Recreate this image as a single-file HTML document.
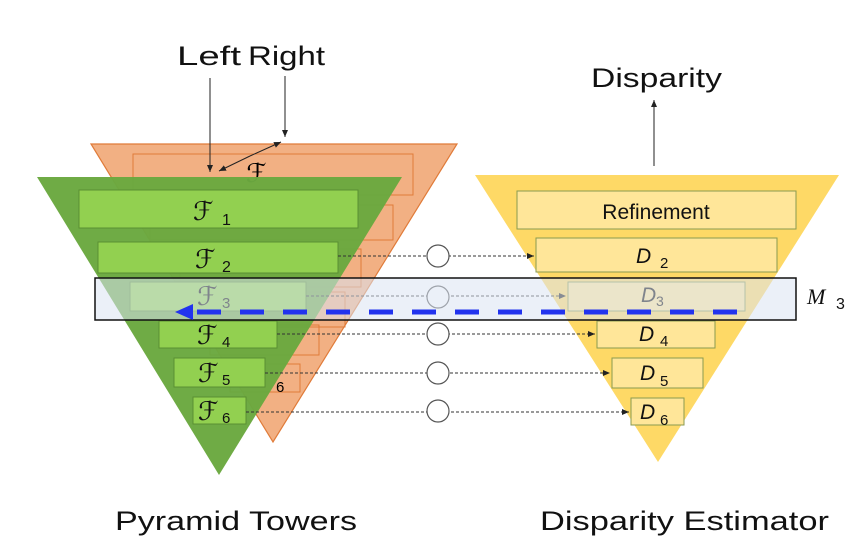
<!DOCTYPE html>
<html><head><meta charset="utf-8"><style>
html,body{margin:0;padding:0;background:#fff;width:867px;height:555px;overflow:hidden}
svg text{font-family:"Liberation Sans",sans-serif}
.m{font-family:"Liberation Serif",serif;font-style:italic}
.f{font-family:"DejaVu Serif","Liberation Serif",serif;font-style:normal}
</style></head><body>
<svg width="867" height="555" viewBox="0 0 867 555" xmlns="http://www.w3.org/2000/svg">
<defs>
<marker id="a" markerWidth="8" markerHeight="8" refX="7" refY="4" orient="auto" markerUnits="userSpaceOnUse"><path d="M0,1 L7,4 L0,7 z" fill="#222"/></marker>
</defs>
<polygon points="91,144 457,144 273,442" fill="#f2b083" stroke="#e07b39" stroke-width="1.2"/>
<g fill="none" stroke="#e07b39" stroke-width="1">
<rect x="133" y="154" width="280" height="41"/>
<rect x="150" y="205" width="243" height="35"/>
<rect x="180" y="249" width="181" height="38"/>
<rect x="200" y="292" width="145" height="35"/>
<rect x="210" y="325" width="109" height="30"/>
<rect x="230" y="364" width="70" height="28"/>
</g>
<text x="246" y="182" class="f" font-size="26">ℱ</text>
<text x="276" y="392" font-size="15">6</text>
<polygon points="37,177 402,177 219,475" fill="#6aa83f" opacity="0.97"/>
<g fill="#92d050" stroke="#5a8f32" stroke-width="1">
<rect x="79" y="190" width="279" height="38"/>
<rect x="98" y="242" width="240" height="31"/>
<rect x="130" y="282" width="176" height="29"/>
<rect x="159" y="321" width="118" height="27"/>
<rect x="174" y="358" width="91" height="29"/>
<rect x="193" y="397" width="53" height="27"/>
</g>
<g class="f" font-size="26" fill="#111">
<text x="193" y="220">ℱ</text><text x="222" y="225" font-size="16">1</text>
<text x="195" y="268">ℱ</text><text x="222" y="272" font-size="16">2</text>
<text x="197" y="305">ℱ</text><text x="222" y="308" font-size="15">3</text>
<text x="197" y="344">ℱ</text><text x="222" y="347" font-size="15">4</text>
<text x="198" y="382">ℱ</text><text x="222" y="385" font-size="15">5</text>
<text x="198" y="420">ℱ</text><text x="222" y="423" font-size="15">6</text>
</g>
<polygon points="475,175 839,175 658,462" fill="#fed966"/>
<g fill="#ffe699" stroke="#8a9a50" stroke-width="1">
<rect x="517" y="191" width="279" height="38"/>
<rect x="536" y="238" width="241" height="34"/>
<rect x="568" y="282" width="177" height="29"/>
<rect x="597" y="321" width="118" height="27"/>
<rect x="612" y="358" width="91" height="30"/>
<rect x="631" y="398" width="53" height="27"/>
</g>
<text x="656" y="219" font-size="21" text-anchor="middle" fill="#111">Refinement</text>
<g class="m" font-size="21" fill="#111">
<text x="636" y="263">D</text><text x="660" y="268" font-size="15" font-style="normal">2</text>
<text x="641" y="302">D</text><text x="656" y="306" font-size="14" font-style="normal">3</text>
<text x="639" y="341">D</text><text x="660" y="346" font-size="15" font-style="normal">4</text>
<text x="640" y="380">D</text><text x="660" y="386" font-size="15" font-style="normal">5</text>
<text x="640" y="419">D</text><text x="660" y="425" font-size="15" font-style="normal">6</text>
</g>
<g stroke="#333" stroke-width="1" stroke-dasharray="3,2" fill="none">
<line x1="338" y1="256" x2="534" y2="256" marker-end="url(#a)"/>
<line x1="306" y1="296" x2="566" y2="296" marker-end="url(#a)"/>
<line x1="277" y1="334" x2="595" y2="334" marker-end="url(#a)"/>
<line x1="265" y1="373" x2="610" y2="373" marker-end="url(#a)"/>
<line x1="246" y1="412" x2="629" y2="412" marker-end="url(#a)"/>
</g>
<g fill="#fff" stroke="#555" stroke-width="1.2">
<circle cx="438" cy="256" r="11"/>
<circle cx="438" cy="297" r="11"/>
<circle cx="438" cy="334" r="11"/>
<circle cx="438" cy="373" r="11"/>
<circle cx="438" cy="411" r="11"/>
</g>
<rect x="95" y="278" width="701" height="42" fill="#dae3f3" fill-opacity="0.55" stroke="#111" stroke-width="1.5"/>
<line x1="197" y1="312" x2="745" y2="312" stroke="#2233ee" stroke-width="5" stroke-dasharray="24,19"/>
<polygon points="175,312 193,304 193,320" fill="#2233ee"/>
<text x="807" y="304" class="m" font-size="22" fill="#111">M</text>
<text x="836" y="309" font-size="16" fill="#111">3</text>
<g stroke="#222" stroke-width="1" fill="none">
<line x1="210" y1="78" x2="210" y2="172" marker-end="url(#a)"/>
<line x1="285" y1="76" x2="285" y2="137" marker-end="url(#a)"/>
<line x1="250" y1="156" x2="219" y2="171" marker-end="url(#a)"/>
<line x1="250" y1="156" x2="281" y2="142" marker-end="url(#a)"/>
<line x1="654" y1="166" x2="654" y2="100" marker-end="url(#a)"/>
</g>
<g font-size="27" fill="#111">
<text x="177" y="65" textLength="64" lengthAdjust="spacingAndGlyphs">Left</text>
<text x="248" y="65" textLength="77" lengthAdjust="spacingAndGlyphs">Right</text>
<text x="591" y="87" textLength="131" lengthAdjust="spacingAndGlyphs">Disparity</text>
<text x="115" y="530" textLength="242" lengthAdjust="spacingAndGlyphs">Pyramid Towers</text>
<text x="540" y="530" textLength="289" lengthAdjust="spacingAndGlyphs">Disparity Estimator</text>
</g>
</svg>
</body></html>
